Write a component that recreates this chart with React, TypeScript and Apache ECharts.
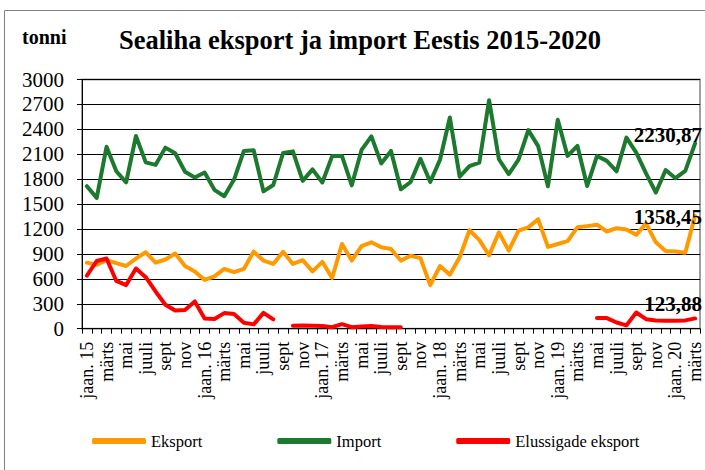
import React, { useEffect, useRef } from "react";
import * as echarts from "echarts";

const categories = [
  "jaan. 15", "veebr", "märts", "apr", "mai", "juuni", "juuli", "aug", "sept", "okt", "nov", "dets",
  "jaan. 16", "veebr", "märts", "apr", "mai", "juuni", "juuli", "aug", "sept", "okt", "nov", "dets",
  "jaan. 17", "veebr", "märts", "apr", "mai", "juuni", "juuli", "aug", "sept", "okt", "nov", "dets",
  "jaan. 18", "veebr", "märts", "apr", "mai", "juuni", "juuli", "aug", "sept", "okt", "nov", "dets",
  "jaan. 19", "veebr", "märts", "apr", "mai", "juuni", "juuli", "aug", "sept", "okt", "nov", "dets",
  "jaan. 20", "veebr", "märts",
];

const eksport = [
  795, 770, 825, 790, 755, 845, 920, 795, 833, 905, 755, 688,
  588, 630, 720, 682, 720, 928, 820, 780, 925, 780, 825, 690,
  805, 610, 1020, 820, 995, 1040, 980, 960, 820, 878, 850, 525,
  755, 650, 860, 1185, 1070, 883, 1160, 940, 1180, 1220, 1318, 985,
  1020, 1055, 1220, 1235, 1252, 1170, 1210, 1195, 1130, 1268, 1040, 935,
  930, 915, 1358.45,
];

const importData = [
  1715, 1575, 2190, 1895, 1762, 2320, 2002, 1972, 2180, 2112, 1890, 1820,
  1880, 1672, 1595, 1795, 2140, 2148, 1653, 1730, 2115, 2135, 1780, 1918,
  1760, 2078, 2080, 1726, 2152, 2315, 1990, 2140, 1678, 1766, 2046, 1766,
  2036, 2543, 1830, 1956, 1998, 2751, 2040, 1860, 2036, 2391, 2198, 1714,
  2515, 2080, 2202, 1718, 2080, 2020, 1895, 2300, 2120, 1870, 1640, 1910,
  1812, 1900, 2230.87,
];

const elussigade = [
  640, 815, 845, 575, 525, 725, 620, 448, 288, 218, 226, 328,
  124, 116, 188, 176, 72, 52, 190, 112, null, 36, 38, 37,
  34, 18, 55, 18, 27, 33, 20, 18, 18, null, null, null,
  null, null, null, null, null, null, null, null, null, null, null, null,
  null, null, null, null, 130, 128, 75, 40, 195, 115, 100, 97,
  97, 100, 123.88,
];

const seriesNames = ["Eksport", "Import", "Elussigade eksport"];
const seriesColors = ["#FF9900", "#1B7A2E", "#FF0000"];

export default function App() {
  const ref = useRef<HTMLDivElement>(null);

  useEffect(() => {
    document.body.style.margin = "0";
    const chart = echarts.init(ref.current!, null, { renderer: "svg" });
    const serif = "Liberation Serif, Times New Roman, serif";

    const withEndLabel = (arr: (number | null)[], dy: number) =>
      arr.map((v, i) =>
        i === arr.length - 1
          ? {
              value: v,
              symbol: "circle",
              symbolSize: 1,
              label: {
                show: true,
                position: "top",
                distance: 0,
                align: "right",
                verticalAlign: "middle",
                offset: [7, dy],
                formatter: String(v).replace(".", ","),
                fontFamily: serif,
                fontWeight: "bold",
                fontSize: 21,
                color: "#000",
              },
            }
          : v
      );

    const datasets = [
      withEndLabel(eksport, 2),
      withEndLabel(importData, -8),
      withEndLabel(elussigade, -14),
    ];

    chart.setOption({
      animation: false,
      backgroundColor: "#fff",
      textStyle: { fontFamily: serif, color: "#000" },
      graphic: [
        {
          type: "rect",
          shape: { x: 4.5, y: 10.5, width: 900, height: 700 },
          style: { fill: "none", stroke: "#808080", lineWidth: 1 },
          silent: true,
        },
        {
          type: "text",
          x: 360,
          y: 40,
          style: {
            text: "Sealiha eksport ja import Eestis 2015-2020",
            fontFamily: serif,
            fontWeight: "bold",
            fontSize: 26.5,
            fill: "#000",
            align: "center",
            verticalAlign: "middle",
          },
        },
        {
          type: "text",
          x: 22,
          y: 37,
          style: {
            text: "tonni",
            fontFamily: serif,
            fontWeight: "bold",
            fontSize: 20,
            fill: "#000",
            align: "left",
            verticalAlign: "middle",
          },
        },
      ],
      grid: {
        left: 82,
        right: 5,
        top: 79.5,
        bottom: 141.3,
        show: true,
        borderColor: "#a0a0a0",
        borderWidth: 2,
      },
      legend: {
        data: seriesNames,
        left: 92,
        top: 432.5,
        padding: 0,
        itemWidth: 54,
        itemHeight: 6,
        itemGap: 75,
        icon: "roundRect",
        textStyle: { fontFamily: serif, fontSize: 16.5, color: "#000" },
      },
      xAxis: {
        type: "category",
        data: categories,
        boundaryGap: true,
        axisLine: { show: true, lineStyle: { color: "#000", width: 1 } },
        axisTick: { show: true, interval: 0, length: 5, lineStyle: { color: "#000" } },
        axisLabel: {
          interval: 1,
          rotate: 90,
          margin: 13,
          fontFamily: serif,
          fontSize: 18,
          color: "#000",
        },
        splitLine: { show: false },
      },
      yAxis: {
        type: "value",
        min: 0,
        max: 3000,
        interval: 300,
        axisLine: { show: true, lineStyle: { color: "#000", width: 1 } },
        axisTick: { show: true, length: 5, lineStyle: { color: "#000" } },
        axisLabel: {
          fontFamily: serif,
          fontSize: 21,
          color: "#000",
          margin: 18,
          formatter: (v: number) => String(v),
        },
        splitLine: { show: true, lineStyle: { color: "#000", width: 1 } },
      },
      series: seriesNames.map((name, k) => ({
        name,
        type: "line",
        data: datasets[k],
        color: seriesColors[k],
        symbol: "none",
        showSymbol: true,
        connectNulls: false,
        lineStyle: { color: seriesColors[k], width: 4, cap: "round", join: "round" },
        itemStyle: { color: seriesColors[k] },
        emphasis: { disabled: true },
        z: 2 + k,
      })),
    });

    return () => chart.dispose();
  }, []);

  return (
    <div
      ref={ref}
      style={{ position: "absolute", left: 0, top: 0, width: 705, height: 470, background: "#fff" }}
    />
  );
}
